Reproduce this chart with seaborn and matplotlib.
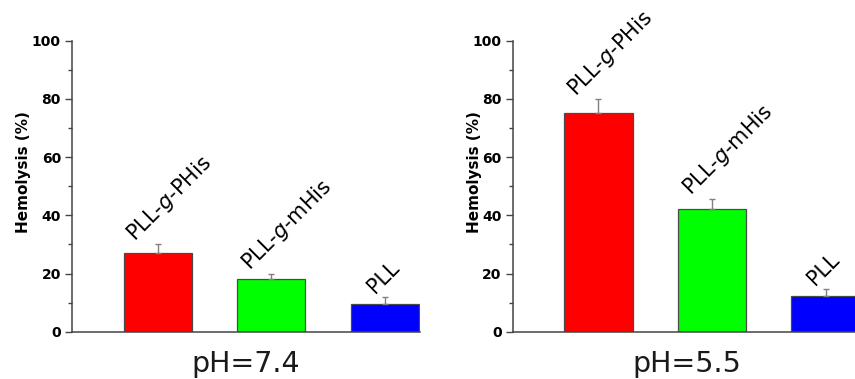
import numpy as np
import pandas as pd
import matplotlib
matplotlib.use("Agg")
import matplotlib.pyplot as plt
import seaborn as sns
from matplotlib.ticker import MultipleLocator

# data
samples = ["PLL-g-PHis", "PLL-g-mHis", "PLL"]
sample_labels = [r"PLL-$\it{g}$-PHis", r"PLL-$\it{g}$-mHis", "PLL"]
bar_colors = ["#ff0000", "#00ff00", "#0000ff"]
ph_titles = ["pH=7.4", "pH=5.5"]
hemo_74 = [27.0, 18.0, 9.4]
err_74 = [3.0, 1.8, 2.4]
hemo_55 = [75.0, 42.0, 12.2]
err_55 = [4.8, 3.7, 2.6]

sns.set_style("ticks")
plt.rcParams["font.family"] = ["DejaVu Sans"]
plt.rcParams["mathtext.fontset"] = "dejavusans"

fig = plt.figure(figsize=(8.55, 3.79), dpi=100)
ax1 = fig.add_axes([0.0842, 0.1248, 0.407, 0.7678])
ax2 = fig.add_axes([0.5997, 0.1248, 0.407, 0.7678])

# small layout tweaks for the rotated labels (x shift in bar units)
label_shift = [-0.20, -0.19, -0.09]
ylabel_x = [-0.138, -0.111]

panels = [(ax1, hemo_74, err_74), (ax2, hemo_55, err_55)]
for k, (ax, vals, errs) in enumerate(panels):
    df = pd.DataFrame({"sample": samples, "hemolysis": vals})
    sns.barplot(data=df, x="sample", y="hemolysis", hue="sample",
                palette=bar_colors, saturation=1, width=0.6,
                edgecolor="#4a4a4a", linewidth=0.9, legend=False, ax=ax,
                errorbar=None)
    xs = np.arange(len(samples))
    ax.errorbar(xs, vals, yerr=[np.zeros(len(errs)), errs], fmt="none",
                ecolor="#808080", elinewidth=1.0, capsize=2.2, capthick=1.0)
    for i, lab in enumerate(sample_labels):
        ax.text(xs[i] + label_shift[i], vals[i] + errs[i] + 1.0, lab,
                rotation=45, rotation_mode="anchor", ha="left", va="baseline",
                fontsize=15, color="black", clip_on=False)

    ax.set_ylim(0, 100)
    ax.set_xlim(-0.755, 2.31)
    ax.yaxis.set_major_locator(MultipleLocator(20))
    ax.yaxis.set_minor_locator(MultipleLocator(10))
    ax.tick_params(axis="y", which="major", length=5, width=1.0,
                   color="#444444", labelsize=10, labelcolor="black", pad=3)
    ax.tick_params(axis="y", which="minor", length=3, width=1.0,
                   color="#444444")
    ax.tick_params(axis="x", length=0, labelbottom=False)
    for t in ax.get_yticklabels():
        t.set_fontweight("bold")
    sns.despine(ax=ax)
    for s in ["left", "bottom"]:
        ax.spines[s].set_color("#444444")
        ax.spines[s].set_linewidth(1.1)
    ax.set_xlabel("")
    ax.set_ylabel("Hemolysis (%)", fontsize=11, fontweight="bold",
                  va="center", color="black")
    ax.yaxis.set_label_coords(ylabel_x[k], 0.547)
    ax.text(0.5, -0.137, ph_titles[k], transform=ax.transAxes,
            ha="center", va="baseline", fontsize=20.5, color="#1a1a1a")

fig.savefig("out.png", dpi=100)
